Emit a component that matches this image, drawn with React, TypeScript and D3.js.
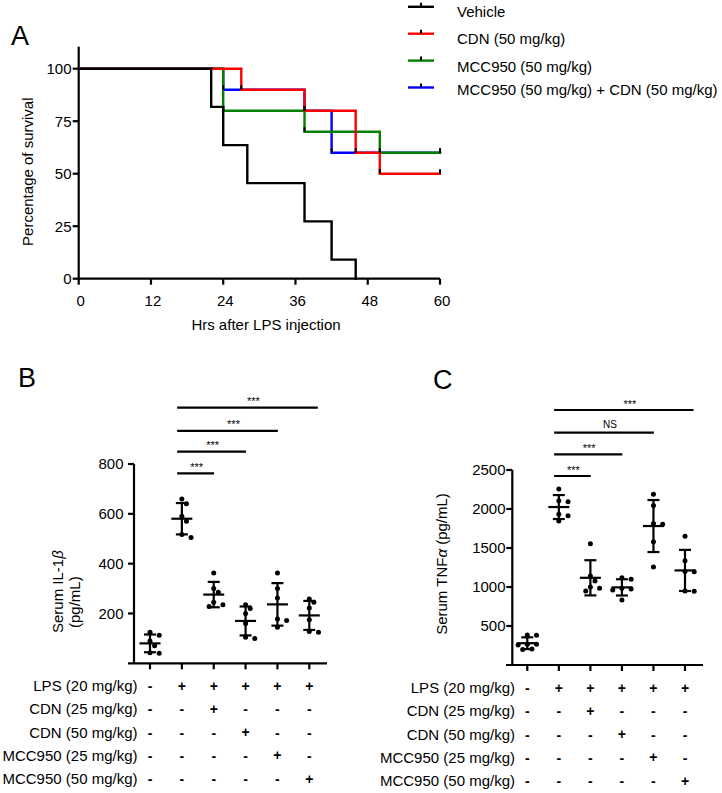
import React from 'react';
import * as d3 from 'd3';

// ---------- Panel A data ----------
const survTicksX = [0, 12, 24, 36, 48, 60];
const survTicksY = [0, 25, 50, 75, 100];
const seriesNames = ['Vehicle', 'CDN (50 mg/kg)', 'MCC950 (50 mg/kg)', 'MCC950 (50 mg/kg) + CDN (50 mg/kg)'];
const seriesColors = ['#000000', '#ff0000', '#008000', '#0000ff'];
const vehicleTimes = [0, 22, 24, 28, 37.5, 42, 46];
const vehicleSurv = [100, 81.8, 63.6, 45.5, 27.3, 9.1, 0];
const cdnTimes = [0, 27, 37.5, 46, 50, 60];
const cdnSurv = [100, 90, 80, 60, 50, 50];
const mccTimes = [0, 24, 37.5, 50, 60];
const mccSurv = [100, 80, 70, 60, 60];
const comboTimes = [0, 24, 37.5, 42, 60];
const comboSurv = [100, 90, 80, 60, 60];

// ---------- Panel B / C data ----------
const groupIdx = [0, 1, 2, 3, 4, 5];
const il1bValues = [
  [125, 113, 90, 70, 42, 40],
  [660, 640, 590, 570, 517, 505],
  [362, 300, 285, 245, 235, 228],
  [235, 220, 200, 160, 105, 100],
  [362, 300, 262, 178, 172, 145],
  [258, 245, 222, 175, 128, 125],
];
const tnfValues = [
  [385, 380, 265, 265, 255, 205, 200],
  [2257, 2107, 2094, 1932, 1915, 1846],
  [1556, 1141, 1077, 1000, 983, 950],
  [1120, 1098, 983, 975, 962, 833],
  [2190, 2045, 1815, 1805, 1580, 1255],
  [1650, 1335, 1200, 1195, 950, 945],
];
const il1bTicks = [200, 400, 600, 800];
const tnfTicks = [500, 1000, 1500, 2000, 2500];
const treatmentLabels = ['LPS (20 mg/kg)', 'CDN (25 mg/kg)', 'CDN (50 mg/kg)', 'MCC950 (25 mg/kg)', 'MCC950 (50 mg/kg)'];
const treatmentMatrix = [
  ['-', '+', '+', '+', '+', '+'],
  ['-', '-', '+', '-', '-', '-'],
  ['-', '-', '-', '+', '-', '-'],
  ['-', '-', '-', '-', '+', '-'],
  ['-', '-', '-', '-', '-', '+'],
];
const sigTargets = [2, 3, 4, 5];
const sigHeightsB = [762, 850, 933, 1026];
const sigLabelsB = ['***', '***', '***', '***'];
const sigHeightsC = [2423, 2701, 2978, 3269];
const sigLabelsC = ['***', '***', 'NS', '***'];

const FONT = '"Liberation Sans", Arial, Helvetica, sans-serif';

function swarm(vals: number[], y: (v: number) => number, cx: number) {
  const order = vals.map((_, i) => i).sort((a, b) => vals[b] - vals[a]);
  const placed: { x: number; y: number }[] = [];
  const out: { x: number; y: number }[] = new Array(vals.length);
  const minDist = 5.6;
  const step = 4.6;
  for (const i of order) {
    const py = y(vals[i]);
    let px = cx;
    for (let k = 0; k < 30; k++) {
      const m = Math.ceil(k / 2);
      const cand = cx + (k === 0 ? 0 : k % 2 === 1 ? m * step : -m * step);
      if (placed.every((p) => Math.hypot(p.x - cand, p.y - py) >= minDist)) {
        px = cand;
        break;
      }
    }
    placed.push({ x: px, y: py });
    out[i] = { x: px, y: py };
  }
  return out;
}

function DotPanel(props: {
  values: number[][];
  x: d3.ScalePoint<number>;
  y: d3.ScaleLinear<number, number>;
  ticks: number[];
  axisX: number;
  axisStartX: number;
  axisEndX: number;
  labelRight: number;
  sigHeights: number[];
  sigLabels: string[];
  tableRight: number;
  tableBaseline: number;
}) {
  const { values, x, y, ticks, axisX, axisStartX, axisEndX, labelRight, sigHeights, sigLabels, tableRight, tableBaseline } = props;
  const y0 = y(0);
  const [, yTop] = y.range();
  return (
    <g>
      {/* axes */}
      <line x1={axisX} x2={axisX} y1={yTop} y2={y0} stroke="#000" strokeWidth={2.2} />
      <line x1={axisStartX} x2={axisEndX} y1={y0} y2={y0} stroke="#000" strokeWidth={2.2} />
      {ticks.map((t) => (
        <g key={t}>
          <line x1={axisX - 6} x2={axisX} y1={y(t)} y2={y(t)} stroke="#000" strokeWidth={2.2} />
          <text x={labelRight} y={y(t) + 5.3} textAnchor="end" fontSize={15}>
            {t}
          </text>
        </g>
      ))}
      {groupIdx.map((g) => (
        <line key={g} x1={x(g)!} x2={x(g)!} y1={y0} y2={y0 + 6} stroke="#000" strokeWidth={2.2} />
      ))}
      {/* data */}
      {values.map((vals, g) => {
        const cx = x(g)!;
        const m = d3.mean(vals)!;
        const sd = d3.deviation(vals)!;
        const pts = swarm(vals, (v) => y(v), cx);
        return (
          <g key={g}>
            {pts.map((p, i) => (
              <circle key={i} cx={p.x} cy={p.y} r={2.5} fill="#000" />
            ))}
            <line x1={cx} x2={cx} y1={y(m + sd)} y2={y(m - sd)} stroke="#000" strokeWidth={2.2} />
            <line x1={cx - 6} x2={cx + 6} y1={y(m + sd)} y2={y(m + sd)} stroke="#000" strokeWidth={2.2} />
            <line x1={cx - 6} x2={cx + 6} y1={y(m - sd)} y2={y(m - sd)} stroke="#000" strokeWidth={2.2} />
            <line x1={cx - 10.5} x2={cx + 10.5} y1={y(m)} y2={y(m)} stroke="#000" strokeWidth={2.2} />
          </g>
        );
      })}
      {/* significance bars */}
      {sigTargets.map((t, i) => {
        const x1 = x(1)! - 4.7;
        const x2 = x(t)! + (i === sigTargets.length - 1 ? 8.5 : 0.4);
        const by = y(sigHeights[i]);
        const isNS = sigLabels[i] === 'NS';
        const mid = (x1 + x2) / 2 + (i >= 2 ? 6 : 1);
        return (
          <g key={t}>
            <line x1={x1} x2={x2} y1={by} y2={by} stroke="#000" strokeWidth={2.2} />
            <text x={mid} y={isNS ? by - 5 : by - 2.5} textAnchor="middle" fontSize={isNS ? 10 : 11}>
              {sigLabels[i]}
            </text>
          </g>
        );
      })}
      {/* treatment table */}
      {treatmentLabels.map((lab, r) => (
        <g key={lab}>
          <text x={tableRight} y={tableBaseline + r * 23.3} textAnchor="end" fontSize={15}>
            {lab}
          </text>
          {treatmentMatrix[r].map((s, c) => (
            <text key={c} x={x(c)!} y={tableBaseline + r * 23.3 - (s === '-' ? 0 : 0.5)} textAnchor="middle" fontSize={14} fontWeight="bold">
              {s}
            </text>
          ))}
        </g>
      ))}
    </g>
  );
}

export default function App() {
  const W = 722;
  const H = 793;

  // Panel A scales
  const xA = d3.scaleLinear().domain([0, 60]).range([78.7, 440]);
  const yA = d3.scaleLinear().domain([0, 100]).range([278.7, 68.7]);
  const stepLine = d3
    .line<[number, number]>()
    .x((d) => xA(d[0]))
    .y((d) => yA(d[1]))
    .curve(d3.curveStepAfter);
  const seriesTimes = [vehicleTimes, cdnTimes, mccTimes, comboTimes];
  const seriesSurv = [vehicleSurv, cdnSurv, mccSurv, comboSurv];
  const seriesPts = seriesTimes.map((ts, s) => ts.map((t, i) => [t, seriesSurv[s][i]] as [number, number]));
  const drawOrder = [3, 2, 1, 0];

  // Panel B / C scales
  const xB = d3.scalePoint<number>().domain(groupIdx).range([150, 309.3]);
  const yB = d3.scaleLinear().domain([0, 800]).range([663.3, 464]);
  const xC = d3.scalePoint<number>().domain(groupIdx).range([527.3, 685]);
  const yC = d3.scaleLinear().domain([0, 2500]).range([665, 470]);

  const legendLineY = seriesNames.map((_, i) => 6.8 + i * 26.9);
  const legendTextDy = [10, 10, 11.3, 7];

  return (
    <svg
      width={W}
      height={H}
      viewBox={`0 0 ${W} ${H}`}
      style={{ position: 'absolute', left: 0, top: 0, background: '#fff', fontFamily: FONT }}
      fontFamily={FONT}
    >
      <rect x={0} y={0} width={W} height={H} fill="#fff" />
      {/* Panel letters */}
      <text x={11} y={45} fontSize={27}>A</text>
      <text x={18} y={387} fontSize={27}>B</text>
      <text x={433} y={389} fontSize={27}>C</text>

      {/* ---------- Panel A ---------- */}
      <line x1={xA(0)} x2={xA(0)} y1={yA(110.5)} y2={yA(0)} stroke="#000" strokeWidth={2.2} />
      <line x1={xA(0)} x2={xA(60)} y1={yA(0)} y2={yA(0)} stroke="#000" strokeWidth={2.2} />
      {survTicksY.map((t) => (
        <g key={t}>
          <line x1={xA(0) - 6} x2={xA(0)} y1={yA(t)} y2={yA(t)} stroke="#000" strokeWidth={2.2} />
          <text x={71.5} y={yA(t) + 5.3} textAnchor="end" fontSize={15}>{t}</text>
        </g>
      ))}
      {survTicksX.map((t) => (
        <g key={t}>
          <line x1={xA(t)} x2={xA(t)} y1={yA(0)} y2={yA(0) + 6} stroke="#000" strokeWidth={2.2} />
          <text x={xA(t) + 2} y={305.5} textAnchor="middle" fontSize={15}>{t}</text>
        </g>
      ))}
      <text x={266} y={329.5} textAnchor="middle" fontSize={15}>Hrs after LPS injection</text>
      <text transform="translate(32.5,171.7) rotate(-90)" textAnchor="middle" fontSize={15}>
        Percentage of survival
      </text>
      {drawOrder.map((s) => (
        <path
          key={s}
          d={stepLine(seriesPts[s]) || ''}
          fill="none"
          stroke={seriesColors[s]}
          strokeWidth={2.4}
          strokeLinejoin="miter"
          strokeLinecap="square"
        />
      ))}
      {[1, 2, 3].map((s) =>
        seriesPts[s].slice(1).map((p, i) => (
          <line
            key={`${s}-${i}`}
            x1={xA(p[0])}
            x2={xA(p[0])}
            y1={yA(p[1])}
            y2={yA(p[1]) - 4.5}
            stroke="#000"
            strokeWidth={2}
          />
        ))
      )}
      {/* legend */}
      {seriesNames.map((n, i) => (
        <g key={n}>
          <line x1={408} x2={434} y1={legendLineY[i]} y2={legendLineY[i]} stroke={seriesColors[i]} strokeWidth={2.4} />
          <line x1={421} x2={421} y1={legendLineY[i]} y2={legendLineY[i] - 4} stroke="#000" strokeWidth={2} />
          <text x={457} y={legendLineY[i] + legendTextDy[i]} fontSize={15}>{n}</text>
        </g>
      ))}

      {/* ---------- Panel B ---------- */}
      <DotPanel
        values={il1bValues}
        x={xB}
        y={yB}
        ticks={il1bTicks}
        axisX={134}
        axisStartX={128}
        axisEndX={327}
        labelRight={123.5}
        sigHeights={sigHeightsB}
        sigLabels={sigLabelsB}
        tableRight={137.5}
        tableBaseline={691}
      />
      <text transform="translate(63,633) rotate(-90)" textAnchor="start" fontSize={15}>
        Serum IL-1<tspan fontStyle="italic">β</tspan>
      </text>
      <text transform="translate(80,628) rotate(-90)" textAnchor="start" fontSize={15}>
        (pg/mL)
      </text>

      {/* ---------- Panel C ---------- */}
      <DotPanel
        values={tnfValues}
        x={xC}
        y={yC}
        ticks={tnfTicks}
        axisX={512.3}
        axisStartX={506}
        axisEndX={703}
        labelRight={505.5}
        sigHeights={sigHeightsC}
        sigLabels={sigLabelsC}
        tableRight={515}
        tableBaseline={693}
      />
      <text transform="translate(447,564) rotate(-90)" textAnchor="middle" fontSize={15}>
        Serum TNF<tspan fontStyle="italic">α</tspan> (pg/mL)
      </text>
    </svg>
  );
}
